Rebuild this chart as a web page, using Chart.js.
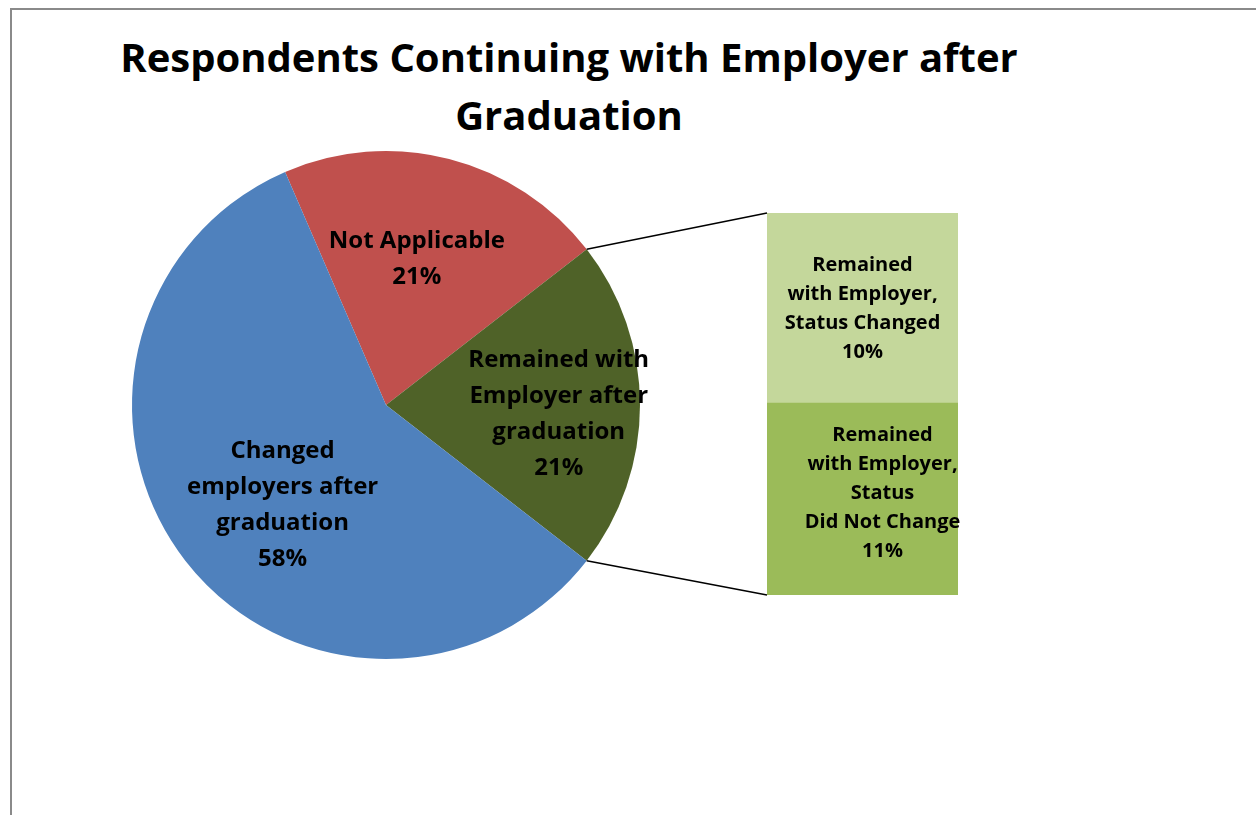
<!DOCTYPE html>
<html>
<head>
<meta charset="utf-8">
<script src="https://cdn.jsdelivr.net/npm/chart.js@4.4.1/dist/chart.umd.min.js"></script>
<style>
  html, body { margin: 0; padding: 0; background: #fff; overflow: hidden; }
  #frame { position: absolute; left: 10px; top: 8px; width: 1400px; height: 1000px;
    border-top: 2px solid #8a8a8a; border-left: 2px solid #8a8a8a; }
  #title { position: absolute; left: 0; top: 28px; width: 1138px; text-align: center;
    font: bold 40px "Open Sans"; line-height: 58px; color: #000; }
  canvas { position: absolute; left: 0; top: 0; }
</style>
</head>
<body>
<div id="frame"></div>
<div id="title">Respondents Continuing with Employer after<br>Graduation</div>
<canvas id="pie" width="1256" height="815"></canvas>
<canvas id="bar" width="1256" height="815"></canvas>
<script>
// pie slices (clockwise from the red one)
const pieNames = ["Not Applicable", "Remained with Employer after graduation", "Changed employers after graduation"]
const pieLines = [["Not Applicable"], ["Remained with", "Employer after", "graduation"], ["Changed", "employers after", "graduation"]]
const pieValues = [21, 21, 58]
const pieColors = ["#C0504D", "#4F6228", "#4F81BD"]

// the bar that splits "Remained with Employer" (bottom first)
const barNames = ["Status Did Not Change", "Status Changed"]
const barLines = [["Remained", "with Employer,", "Status", "Did Not Change"], ["Remained", "with Employer,", "Status Changed"]]
const barValues = [10.55, 10.45]
const barColors = ["#9BBB59", "#C4D79B"]

const pieTotal = pieValues.reduce((a, b) => a + b, 0)
const barTotal = barValues.reduce((a, b) => a + b, 0)

function drawBlock(ctx, lines, x, y, lineHeight) {
  lines.forEach((t, k) => ctx.fillText(t, x, y + (k - (lines.length - 1) / 2) * lineHeight))
}

const sliceLabels = {
  id: "sliceLabels",
  afterDatasetsDraw(chart, args, opts) {
    const ctx = chart.ctx
    ctx.save()
    ctx.font = "bold 24px 'Open Sans'"
    ctx.fillStyle = "#000"
    ctx.textAlign = "center"
    ctx.textBaseline = "middle"
    chart.getDatasetMeta(0).data.forEach((arc, i) => {
      const mid = (arc.startAngle + arc.endAngle) / 2
      const r = arc.outerRadius * opts.radius[i]
      const x = arc.x + Math.cos(mid) * r + opts.shift[i][0]
      const y = arc.y + Math.sin(mid) * r + opts.shift[i][1]
      const pct = Math.round(pieValues[i] / pieTotal * 100) + "%"
      drawBlock(ctx, pieLines[i].concat(pct), x, y, 36)
    })
    ctx.restore()
  }
}

const pieChart = new Chart(document.getElementById("pie"), {
  type: "pie",
  data: {
    labels: pieNames,
    datasets: [{ data: pieValues, backgroundColor: pieColors, borderWidth: 0 }]
  },
  options: {
    responsive: false,
    animation: false,
    rotation: -23.4,
    layout: { padding: { left: 132, right: 616, top: 151, bottom: 156 } },
    plugins: {
      legend: { display: false },
      tooltip: { enabled: false },
      sliceLabels: { radius: [0.6, 0.68, 0.57], shift: [[-7, 2], [0, 9], [11, 11]] }
    }
  },
  plugins: [sliceLabels]
})

const barText = {
  id: "barText",
  afterDatasetsDraw(chart, args, opts) {
    const ctx = chart.ctx
    ctx.save()
    ctx.font = "bold 20px 'Open Sans'"
    ctx.fillStyle = "#000"
    ctx.textAlign = "center"
    ctx.textBaseline = "middle"
    barValues.forEach((v, i) => {
      const el = chart.getDatasetMeta(i).data[0]
      const x = el.x + opts.shift[i][0]
      const y = (el.y + el.base) / 2 + opts.shift[i][1]
      drawBlock(ctx, barLines[i].concat(Math.round(v) + "%"), x, y, 29)
    })
    ctx.restore()
  }
}

// lines from the green slice edges to the corners of the bar
const connectors = {
  id: "connectors",
  afterDraw(chart) {
    const arc = pieChart.getDatasetMeta(0).data[1]
    const area = chart.chartArea
    const ctx = chart.ctx
    ctx.save()
    ctx.strokeStyle = "#000"
    ctx.lineWidth = 1.5
    ctx.beginPath()
    ctx.moveTo(arc.x + Math.cos(arc.startAngle) * arc.outerRadius, arc.y + Math.sin(arc.startAngle) * arc.outerRadius)
    ctx.lineTo(area.left, area.top)
    ctx.moveTo(arc.x + Math.cos(arc.endAngle) * arc.outerRadius, arc.y + Math.sin(arc.endAngle) * arc.outerRadius)
    ctx.lineTo(area.left, area.bottom)
    ctx.stroke()
    ctx.restore()
  }
}

new Chart(document.getElementById("bar"), {
  type: "bar",
  data: {
    labels: [""],
    datasets: barValues.map((v, i) => ({
      label: barNames[i],
      data: [v],
      backgroundColor: barColors[i],
      borderWidth: 0,
      categoryPercentage: 1,
      barPercentage: 1
    }))
  },
  options: {
    responsive: false,
    animation: false,
    layout: { padding: { left: 767, right: 298, top: 213, bottom: 220 } },
    scales: {
      x: { stacked: true, display: false },
      y: { stacked: true, display: false, min: 0, max: barTotal }
    },
    plugins: {
      legend: { display: false },
      tooltip: { enabled: false },
      barText: { shift: [[20, -6], [0, 1]] }
    }
  },
  plugins: [barText, connectors]
})
</script>
</body>
</html>
